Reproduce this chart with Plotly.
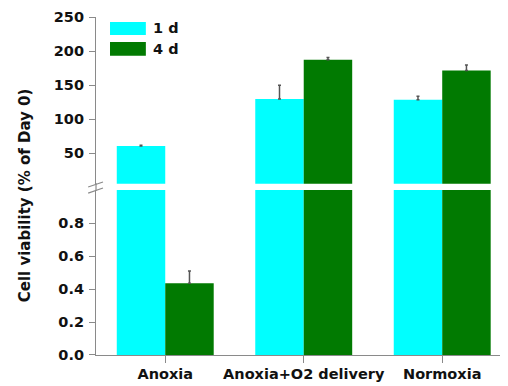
import plotly.graph_objects as go

categories = ["Anoxia", "Anoxia+O2 delivery", "Normoxia"]
day1_values = [60.5, 129.5, 128.5]
day1_errors = [1.0, 20.0, 5.0]
day4_values = [0.435, 187.0, 171.5]
day4_errors = [0.075, 3.5, 8.0]
series_names = ["1 d", "4 d"]
top_ticks = [50, 100, 150, 200, 250]
bottom_ticks = [0.0, 0.2, 0.4, 0.6, 0.8]

C1 = "#00FFFF"
C4 = "#017A01"
AX = "#8a8a8a"
FONT = dict(family="DejaVu Sans", size=14.5, color="#111111", weight="bold")
TFONT = dict(family="DejaVu Sans", size=15, color="#111111", weight="bold")

fig = go.Figure()
for yax, xax in (("y", "x"), ("y2", "x2")):
    fig.add_trace(go.Bar(
        x=categories, y=day1_values, name=series_names[0], marker_color=C1,
        marker_line_width=0, offsetgroup="1", xaxis=xax, yaxis=yax, showlegend=False,
        error_y=dict(type="data", array=day1_errors, arrayminus=[0, 0, 0],
                     color="#555555", thickness=1.5, width=1.5)))
    fig.add_trace(go.Bar(
        x=categories, y=day4_values, name=series_names[1], marker_color=C4,
        marker_line_width=0, offsetgroup="2", xaxis=xax, yaxis=yax, showlegend=False,
        error_y=dict(type="data", array=day4_errors, arrayminus=[0, 0, 0],
                     color="#555555", thickness=1.5, width=1.5)))

# page body has an 8px margin, so the figure is 8px smaller than the window
fig.update_layout(
    width=500, height=378,
    margin=dict(l=88, r=0, t=9, b=31),
    paper_bgcolor="white", plot_bgcolor="white",
    barmode="group", bargap=0.30, bargroupgap=0,
    font=FONT,
    xaxis=dict(domain=[0, 1], range=[-0.5, 2.475], anchor="y",
               showline=True, linecolor=AX, linewidth=1.2,
               ticks="outside", ticklen=7, tickcolor=AX, tickwidth=1.2,
               ticklabelstandoff=-2,
               tickfont=FONT, showgrid=False),
    xaxis2=dict(domain=[0, 1], matches="x", anchor="y2", visible=False),
    yaxis=dict(domain=[0, 0.488], range=[0, 1.0], anchor="x",
               tickvals=bottom_ticks, tickformat=".1f",
               showline=True, linecolor=AX, linewidth=1.2,
               ticks="outside", ticklen=6, tickcolor=AX, tickwidth=1.2,
               ticklabelstandoff=2,
               tickfont=FONT, showgrid=False, zeroline=False),
    yaxis2=dict(domain=[0.507, 1], range=[5, 250], anchor="x2",
                tickvals=top_ticks,
                showline=True, linecolor=AX, linewidth=1.2,
                ticks="outside", ticklen=6, tickcolor=AX, tickwidth=1.2,
                ticklabelstandoff=2,
                tickfont=FONT, showgrid=False, zeroline=False),
)

# axis line through the break and break marks
fig.add_shape(type="line", xref="paper", yref="paper", x0=0, x1=0, y0=0.486, y1=0.509,
              line=dict(color=AX, width=1.2))
fig.add_shape(type="line", xref="paper", yref="paper", x0=-0.019, x1=0.017, y0=0.497, y1=0.512,
              line=dict(color=AX, width=1.2))
fig.add_shape(type="line", xref="paper", yref="paper", x0=-0.019, x1=0.017, y0=0.479, y1=0.494,
              line=dict(color=AX, width=1.2))

# legend
fig.add_shape(type="rect", xref="paper", yref="paper", x0=0.034, x1=0.121, y0=0.947, y1=0.985,
              fillcolor=C1, line=dict(width=0))
fig.add_shape(type="rect", xref="paper", yref="paper", x0=0.034, x1=0.121, y0=0.885, y1=0.926,
              fillcolor=C4, line=dict(width=0))
fig.add_annotation(xref="paper", yref="paper", x=0.133, y=0.966, text=series_names[0],
                   showarrow=False, xanchor="left", yanchor="middle", font=FONT)
fig.add_annotation(xref="paper", yref="paper", x=0.133, y=0.905, text=series_names[1],
                   showarrow=False, xanchor="left", yanchor="middle", font=FONT)

# y title
fig.add_annotation(xref="paper", yref="paper", x=-0.172, y=0.473,
                   text="Cell viability (% of Day 0)", textangle=-90,
                   showarrow=False, xanchor="center", yanchor="middle", font=TFONT)

fig.write_html("out.html")
